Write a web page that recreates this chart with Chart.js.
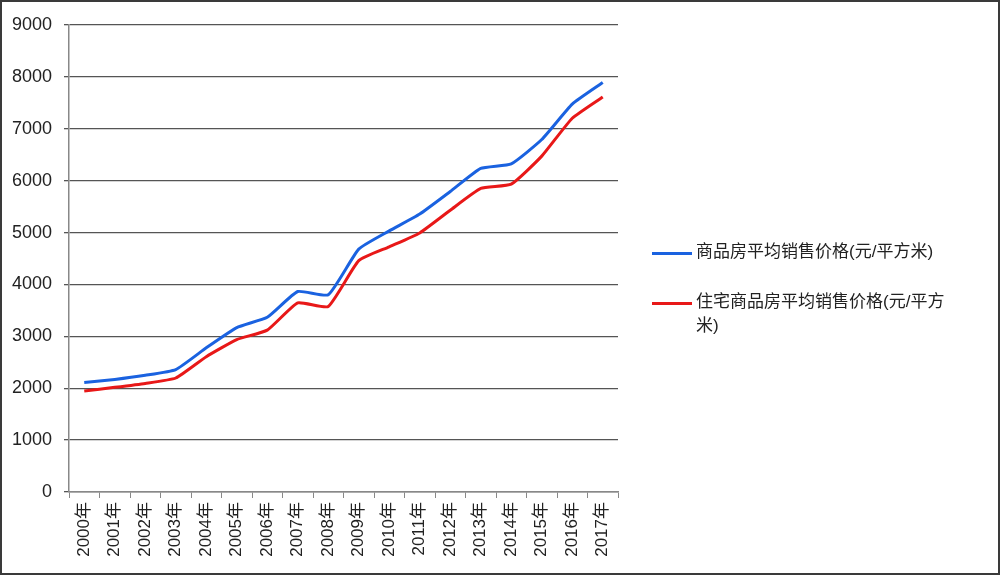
<!DOCTYPE html>
<html>
<head>
<meta charset="utf-8">
<script src="https://cdn.jsdelivr.net/npm/chart.js@4/dist/chart.umd.min.js"></script>
<style>
    html, body { margin: 0; padding: 0; background: #fff; }
    #wrap {
        position: relative;
        width: 1000px;
        height: 575px;
        box-sizing: border-box;
        border: 2px solid #3a3a3a;
        background: #fff;
        overflow: hidden;
    }
    #chart { position: absolute; left: -2px; top: -2px; }
    #legend {
        position: absolute;
        left: 650px;
        top: 238px;
        width: 300px;
        font-family: "Liberation Sans", "Noto Sans CJK SC", sans-serif;
        font-size: 17px;
        color: #222;
    }
    .item { position: relative; padding-left: 44px; line-height: 24px; margin-bottom: 26px; }
    .item span.swatch {
        position: absolute; left: 0; top: 12px; width: 40px; height: 3px;
    }
</style>
</head>
<body>
<div id="wrap">
    <canvas id="chart" width="1000" height="575"></canvas>
    <div id="legend"></div>
</div>
<script>
    // 年份
    const years = ["2000年", "2001年", "2002年", "2003年", "2004年", "2005年", "2006年", "2007年", "2008年",
        "2009年", "2010年", "2011年", "2012年", "2013年", "2014年", "2015年", "2016年", "2017年"];

    // 商品房平均销售价格
    const allPrice = [2112, 2170, 2250, 2359, 2778, 3168, 3367, 3864, 3800,
        4681, 5032, 5357, 5791, 6237, 6324, 6793, 7476, 7892];

    // 住宅商品房平均销售价格
    const homePrice = [1948, 2017, 2092, 2197, 2608, 2937, 3119, 3645, 3576,
        4459, 4725, 4993, 5430, 5850, 5933, 6473, 7203, 7614];

    const yTicks = [0, 1000, 2000, 3000, 4000, 5000, 6000, 7000, 8000, 9000];

    const seriesNames = ["商品房平均销售价格(元/平方米)", "住宅商品房平均销售价格(元/平方米)"];
    const seriesColors = ["#1a62e0", "#e81818"];

    const font = { family: "'Liberation Sans', 'Noto Sans CJK SC', sans-serif", size: 17 };

    const ctx = document.getElementById("chart").getContext("2d");
    const chart = new Chart(ctx, {
        type: "line",
        data: {
            labels: years,
            datasets: [
                { label: seriesNames[0], data: allPrice, borderColor: seriesColors[0] },
                { label: seriesNames[1], data: homePrice, borderColor: seriesColors[1] }
            ].map(d => Object.assign(d, {
                borderWidth: 3,
                pointRadius: 0,
                tension: 0.15,
                fill: false
            }))
        },
        options: {
            responsive: false,
            animation: false,
            layout: { padding: { left: 0, top: 25, right: 382, bottom: 0 } },
            plugins: { legend: { display: false }, tooltip: { enabled: false } },
            scales: {
                x: {
                    offset: true,
                    grid: {
                        display: true,
                        offset: true,
                        drawOnChartArea: false,
                        drawTicks: true,
                        tickLength: 6,
                        color: "#888"
                    },
                    border: { color: "#888", width: 1.5 },
                    ticks: {
                        color: "#222",
                        font: font,
                        minRotation: 90,
                        maxRotation: 90,
                        autoSkip: false,
                        padding: 4
                    },
                    afterFit: s => { s.height = 83; }
                },
                y: {
                    min: 0,
                    max: 9000,
                    afterBuildTicks: s => { s.ticks = yTicks.map(v => ({ value: v })); },
                    grid: {
                        color: "#555",
                        lineWidth: 1.3,
                        tickLength: 5
                    },
                    border: { color: "#888", width: 1.5 },
                    ticks: {
                        color: "#222",
                        font: { family: font.family, size: 18 },
                        padding: 12,
                        callback: v => String(v)
                    },
                    afterFit: s => { s.width = 69; }
                }
            }
        }
    });

    // 图例
    const legend = document.getElementById("legend");
    chart.data.datasets.forEach(ds => {
        const item = document.createElement("div");
        item.className = "item";
        item.innerHTML = `<span class="swatch" style="background:${ds.borderColor}"></span>${ds.label}`;
        legend.appendChild(item);
    });
</script>
</body>
</html>
